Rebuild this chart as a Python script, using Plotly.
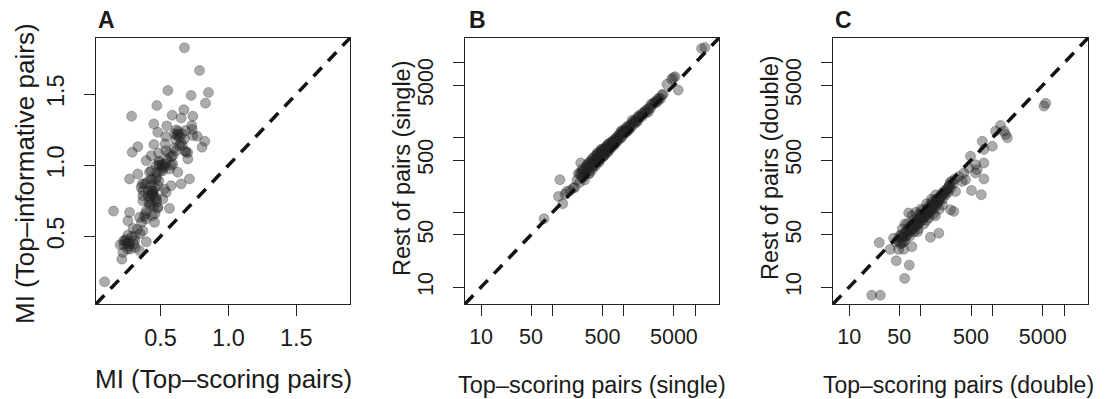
import plotly.graph_objects as go

# target window size; the page adds a default 8px body margin on the top/left
WIN_W, WIN_H = 1105, 399
OFF = 8
W, H = WIN_W - OFF, WIN_H - OFF

# ---------------- Panel A data (MI) ----------------
a_x = [0.676,0.787,0.554,0.725,0.853,0.831,0.473,0.287,0.672,0.586,
       0.652,0.738,0.451,0.547,0.730,0.733,0.615,0.480,0.770,0.826,
       0.603,0.659,0.676,0.451,0.534,0.333,0.292,0.615,0.689,0.640,
       0.485,0.701,0.395,0.490,0.539,0.468,0.566,0.431,0.627,0.333,
       0.272,0.426,0.488,0.713,0.652,0.382,0.578,0.370,0.444,0.529,
       0.407,0.468,0.370,0.517,0.431,0.566,0.480,0.395,0.154,0.272,
       0.346,0.260,0.456,0.297,0.370,0.309,0.248,0.395,0.272,0.203,
       0.314,0.277,0.223,0.346,0.215,0.088,0.365,0.431,0.414,0.539,
       0.738,0.590,0.517,0.358,0.480,0.541,0.395,0.228,0.260,0.539,
       0.684,0.806,0.439,0.468,0.419,0.590,0.370,0.444,0.255,0.304,
       0.44,0.46,0.42,0.49,0.52,0.51,0.62,0.64,0.26,0.24,0.45,0.47,0.55,0.68,0.58,
       0.43,0.45,0.47,0.41,0.44,0.48,0.50,0.53,0.49,0.47,0.61,0.63,0.65,0.60,0.27,
       0.23,0.29,0.31,0.33,0.36,0.39,0.42,0.46,0.40,0.56,0.58,0.66,0.70,0.35,0.38,
       0.44,0.47,0.43,0.51,0.63,0.25]
a_y = [1.826,1.667,1.526,1.491,1.512,1.437,1.420,1.345,1.390,1.352,
       1.333,1.345,1.291,1.277,1.279,1.251,1.249,1.232,1.204,1.169,
       1.221,1.221,1.185,1.146,1.150,1.131,1.092,1.103,1.092,1.139,
       1.087,1.045,1.033,1.021,1.009,0.998,0.974,0.962,0.951,0.939,
       0.904,0.904,0.892,0.904,0.869,0.869,0.857,0.822,0.822,0.833,
       0.786,0.775,0.751,0.763,0.728,0.697,0.704,0.681,0.678,0.669,
       0.634,0.610,0.599,0.556,0.540,0.500,0.481,0.462,0.446,0.441,
       0.423,0.411,0.387,0.399,0.340,0.181,0.869,1.068,0.739,1.103,
       1.209,1.068,0.962,0.845,0.857,0.810,0.622,0.469,0.509,1.202,
       1.244,1.127,0.646,0.904,0.951,1.009,0.786,0.798,0.411,0.446,
       0.80,0.84,0.77,1.00,1.01,0.98,1.21,1.20,0.46,0.47,0.71,0.92,1.04,1.10,1.06,
       0.86,0.78,0.74,0.82,0.90,0.70,0.96,0.99,1.03,0.95,1.18,1.24,1.16,1.12,0.43,
       0.44,0.50,0.47,0.55,0.60,0.66,0.72,0.66,0.88,1.08,1.00,1.14,1.09,0.52,0.64,
       0.82,0.76,0.80,1.00,1.22,0.45]

# ---------------- Panel B data (single) ----------------
b_x = [76,127,121,139,158,195,248,12200,13600,4900,4640,5750,4000,5200,150,175,205,
       220,230,240,250,260,270,280,290,300,310,320,330,340,350,360,370,380,390,400,
       410,420,430,440,450,460,470,480,490,500,510,520,540,550,560,580,600,620,640,
       660,680,700,720,740,760,780,800,830,860,890,920,950,980,1000,1040,1080,1120,
       1160,1200,1250,1300,1350,1400,1450,1500,1560,1620,1700,1780,1850,1950,2050,
       2150,2250,2350,2500,2650,2800,2950,3100,3250,3400,3550,
       300,330,360,400,450,480,520,560,600,650,700,750,900,1100,350,270,260,420,600,800,
       240,260,280,300,320,340,360,380,400,420,440,460,480,500,520,540,560,580,600,620,
       650,680,700,740,780,820,860,900,950,1000,1100,1200,1300,1400,1500,1600,1800,2000,
       2200,2400,2700,3000]
b_y = [82,273,163,130,190,211,457,15500,16000,6300,6000,4300,5150,6500,175,195,215,
       270,330,250,320,290,360,320,400,340,440,330,410,480,390,450,530,420,500,570,
       460,520,600,480,560,640,520,600,680,550,630,700,590,670,750,650,730,810,700,
       800,870,760,860,940,830,930,1000,910,1030,1120,1010,1150,1220,1100,1260,1330,1220,
       1390,1460,1360,1550,1640,1520,1700,1790,1680,1880,1950,1900,2050,2200,2150,
       2380,2500,2450,2750,2900,2900,3250,3350,3300,3700,3800,
       420,330,370,500,470,660,560,620,640,860,870,900,1200,1200,460,300,350,580,820,920,
       330,380,270,380,460,400,520,470,420,620,560,520,700,620,580,720,680,780,690,720,
       750,780,900,820,1000,950,1100,980,1250,1180,1400,1300,1700,1600,1600,1950,2100,2300,
       2200,2800,3000,3100]

# ---------------- Panel C data (double) ----------------
c_x = [20.7,27.2,26.3,59.4,45.4,69,41.7,37.4,49,57.5,54.6,75,136,178,67.6,288,304,377,467,492,
       578,757,757,508,695,419,397,338,578,718,990,1294,1101,1520,1607,1440,5210,5510,
       259,757,611,
       45,50,52,55,58,60,62,65,68,70,72,75,78,80,82,85,88,90,92,95,98,100,105,108,110,115,118,120,
       125,130,135,140,145,150,155,160,165,170,175,180,190,200,210,220,230,240,250,260,270,280,300,
       85,100,120,140,160,75,65,110,130,150,90,60,55,180,200,160,
       48,53,57,62,66,70,74,78,84,88,94,98,104,112,116,122,128,134,142,148,156,164,172,186,196,
       215,235,255,70,80,95,105,125,145,
       58,64,72,86,92,102,114,126,138,152,168,182,205,225,245]
c_y = [7.8,7.8,39.4,13.1,22.5,19.7,45,32,32,32,38.6,34.7,46.4,52.7,98,103,190,259,391,561,
       336,457,279,196,172,273,336,302,434,891,764,1449,1216,1097,991,1216,2630,2860,
       108,690,372,
       40,48,38,45,52,42,55,50,60,48,62,58,68,55,72,65,78,70,60,82,75,88,80,95,85,100,92,78,
       105,98,115,105,125,112,135,120,145,130,155,140,165,150,180,170,200,185,230,210,260,240,280,
       100,110,130,150,170,90,70,70,85,95,55,70,60,110,125,90,
       42,50,40,48,58,55,66,60,75,68,72,90,92,95,88,110,112,100,130,120,128,150,140,160,180,
       195,210,250,65,80,95,105,120,140,
       48,56,60,70,80,84,98,100,118,125,142,150,172,190,220]

# log tick set (B, C)
log_tickvals = [10, 50, 100, 500, 1000, 5000, 10000]
log_ticktext = ["10", "50", "", "500", "", "5000", ""]
lin_tickvals = [0.5, 1.0, 1.5]
lin_ticktext = ["0.5", "1.0", "1.5"]

A_RANGE = [0.025, 1.895]
LOG_RANGE = [0.775, 4.33]

FONT = "Liberation Sans, Arial, Helvetica, sans-serif"
TXT = "#1a1a1a"

def fx(p):
    return (p - OFF) / W

def fy(p):
    return (H - (p - OFF)) / H

marker = dict(size=10, color="rgba(35,35,35,0.38)",
              line=dict(color="rgba(35,35,35,0.28)", width=1))
dash_line = dict(color="#111111", width=3.5, dash="12px,9px")

fig = go.Figure()

fig.add_trace(go.Scatter(x=a_x, y=a_y, mode="markers", marker=marker,
                         xaxis="x", yaxis="y", hoverinfo="skip"))
fig.add_trace(go.Scatter(x=[A_RANGE[0], A_RANGE[1]], y=[A_RANGE[0], A_RANGE[1]],
                         mode="lines", line=dash_line, xaxis="x", yaxis="y", hoverinfo="skip"))
fig.add_trace(go.Scatter(x=b_x, y=b_y, mode="markers", marker=marker,
                         xaxis="x2", yaxis="y2", hoverinfo="skip"))
lo, hi = 10 ** LOG_RANGE[0], 10 ** LOG_RANGE[1]
fig.add_trace(go.Scatter(x=[lo, hi], y=[lo, hi], mode="lines", line=dash_line,
                         xaxis="x2", yaxis="y2", hoverinfo="skip"))
fig.add_trace(go.Scatter(x=c_x, y=c_y, mode="markers", marker=marker,
                         xaxis="x3", yaxis="y3", hoverinfo="skip"))
fig.add_trace(go.Scatter(x=[lo, hi], y=[lo, hi], mode="lines", line=dash_line,
                         xaxis="x3", yaxis="y3", hoverinfo="skip"))

ydom = [fy(304), fy(38)]

def axis_common(fs, standoff):
    return dict(showline=True, mirror=True, linecolor="#222222", linewidth=1.3,
                ticks="outside", ticklen=11, tickwidth=1.2, tickcolor="#222222",
                showgrid=False, zeroline=False, ticklabelstandoff=standoff,
                tickfont=dict(family=FONT, size=fs, color=TXT))

layout = dict(width=W, height=H, autosize=False,
              margin=dict(l=0, r=0, t=0, b=0),
              paper_bgcolor="white", plot_bgcolor="white", showlegend=False)

layout["xaxis"] = dict(domain=[fx(96), fx(350)], range=A_RANGE, anchor="y",
                       tickvals=lin_tickvals, ticktext=lin_ticktext, **axis_common(23.5, 2))
layout["yaxis"] = dict(domain=ydom, range=A_RANGE, anchor="x",
                       tickvals=lin_tickvals, ticktext=lin_ticktext, tickangle=-90,
                       **axis_common(23.5, 10))
layout["xaxis2"] = dict(domain=[fx(465), fx(719)], type="log", range=LOG_RANGE, anchor="y2",
                        tickvals=log_tickvals, ticktext=log_ticktext, **axis_common(21.5, 2))
layout["yaxis2"] = dict(domain=ydom, type="log", range=LOG_RANGE, anchor="x2",
                        tickvals=log_tickvals, ticktext=log_ticktext, tickangle=-90,
                        **axis_common(21.5, 11))
layout["xaxis3"] = dict(domain=[fx(833), fx(1088)], type="log", range=LOG_RANGE, anchor="y3",
                        tickvals=log_tickvals, ticktext=log_ticktext, **axis_common(21.5, 2))
layout["yaxis3"] = dict(domain=ydom, type="log", range=LOG_RANGE, anchor="x3",
                        tickvals=log_tickvals, ticktext=log_ticktext, tickangle=-90,
                        **axis_common(21.5, 11))

fig.update_layout(**layout)

def ann(text, x, y, size, angle=0, bold=False, xanchor="center"):
    fig.add_annotation(text=("<b>%s</b>" % text) if bold else text,
                       xref="paper", yref="paper", x=fx(x), y=fy(y),
                       xanchor=xanchor, yanchor="middle", textangle=angle,
                       showarrow=False,
                       font=dict(family=FONT, size=size, color=TXT))

ann("A", 96, 20, 23, bold=True, xanchor="left")
ann("B", 467, 20, 23, bold=True, xanchor="left")
ann("C", 833, 20, 23, bold=True, xanchor="left")

ann("MI (Top\u2013scoring pairs)", 223, 379, 26)
ann("MI (Top\u2013informative pairs)", 25, 174, 26, angle=-90)
ann("Top\u2013scoring pairs (single)", 592, 385, 23.5)
ann("Rest of pairs (single)", 402, 168, 23.5, angle=-90)
ann("Top\u2013scoring pairs (double)", 958, 385, 23)
ann("Rest of pairs (double)", 770, 168, 23.5, angle=-90)

fig.write_html("out.html")
